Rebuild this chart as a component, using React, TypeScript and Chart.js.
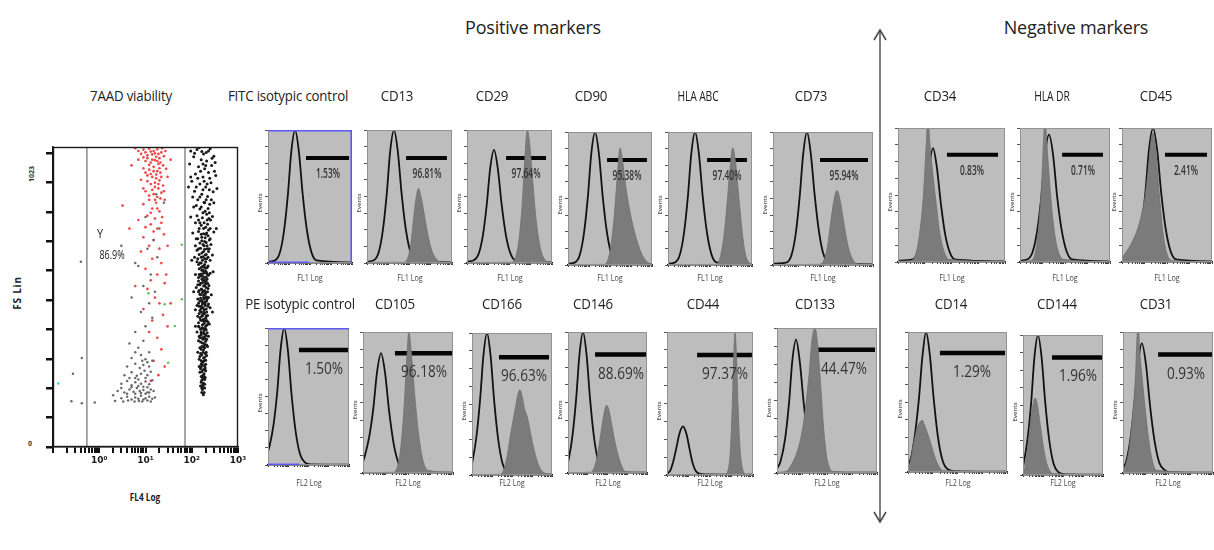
import React, { useEffect, useRef } from 'react';
import { Chart, registerables } from 'chart.js';

Chart.register(...registerables);

type Pt = [number, number];

// ------------------------------------------------------------------ DATA
const SECTION_TITLES = ['Positive markers', 'Negative markers'];

const ROW1_TITLES = ['FITC isotypic control', 'CD13', 'CD29', 'CD90', 'HLA ABC', 'CD73', 'CD34', 'HLA DR', 'CD45'];
const ROW1_PCTS = ['1.53%', '96.81%', '97.64%', '95.38%', '97.40%', '95.94%', '0.83%', '0.71%', '2.41%'];
// gate marker: [start, end, level]
const ROW1_GATES: [number, number, number][] = [
  [1.81, 3.86, 79], [1.84, 3.76, 79], [1.84, 3.72, 79], [1.86, 3.76, 79], [1.86, 3.76, 79],
  [1.88, 3.8, 79], [1.83, 3.74, 80], [1.87, 3.69, 80], [1.91, 3.78, 80],
];

const ROW2_TITLES = ['PE isotypic control', 'CD105', 'CD166', 'CD146', 'CD44', 'CD133', 'CD14', 'CD144', 'CD31'];
const ROW2_PCTS = ['1.50%', '96.18%', '96.63%', '88.69%', '97.37%', '44.47%', '1.29%', '1.96%', '0.93%'];
const ROW2_GATES: [number, number, number][] = [
  [1.53, 4, 84], [1.42, 4, 85], [1.35, 3.85, 83], [1.37, 3.95, 84], [1.4, 3.95, 84],
  [1.4, 3.92, 85], [1.29, 3.92, 85], [1.45, 4, 84], [1.56, 4, 84],
];

// histogram curves: [log channel (decades), % of max events]
const FITC_ISO: Pt[] = [[0, 1], [0.34, 2], [0.57, 8], [0.77, 25], [0.95, 52], [1.11, 84], [1.29, 100], [1.47, 84], [1.65, 52], [1.85, 25], [2.07, 8], [2.31, 2], [4, 0.5]];
const CD13_ISO: Pt[] = [[0, 1], [0.32, 2], [0.55, 8], [0.75, 25], [0.93, 52], [1.09, 84], [1.27, 100], [1.45, 84], [1.63, 52], [1.83, 25], [2.05, 8], [2.29, 2], [4, 0.5]];
const CD13_MK: Pt[] = [[0, 0.5], [1.7, 0.5], [1.9, 3], [2.06, 14], [2.2, 35], [2.32, 50], [2.42, 56], [2.54, 50], [2.7, 36], [2.88, 20], [3.08, 8], [3.32, 2], [3.55, 0.5], [4, 0.3]];
const CD29_ISO: Pt[] = [[0, 1], [0.32, 2], [0.55, 7], [0.75, 21], [0.93, 44], [1.09, 71], [1.27, 85], [1.45, 71], [1.63, 44], [1.83, 21], [2.05, 7], [2.29, 2], [4, 0.5]];
const CD29_MK: Pt[] = [[0, 0.3], [2.05, 0.5], [2.28, 4], [2.45, 18], [2.6, 45], [2.72, 78], [2.84, 100], [2.96, 88], [3.1, 60], [3.27, 30], [3.47, 10], [3.7, 2], [4, 0.3]];
const CD90_ISO: Pt[] = [[0, 1], [0.34, 2], [0.57, 8], [0.77, 25], [0.95, 52], [1.11, 84], [1.29, 100], [1.47, 84], [1.65, 52], [1.85, 25], [2.07, 8], [2.31, 2], [4, 0.5]];
const CD90_MK: Pt[] = [[0, 0.3], [1.7, 0.5], [1.88, 3], [2.05, 15], [2.22, 40], [2.37, 72], [2.48, 88], [2.6, 78], [2.76, 58], [2.95, 40], [3.15, 26], [3.35, 15], [3.55, 7], [3.8, 2], [4, 0.5]];
const HLAABC_ISO: Pt[] = [[0, 1], [0.34, 2], [0.57, 8], [0.77, 25], [0.95, 52], [1.11, 84], [1.29, 100], [1.47, 84], [1.65, 52], [1.85, 25], [2.07, 8], [2.31, 2], [4, 0.5]];
const HLAABC_MK: Pt[] = [[0, 0.3], [2.25, 0.5], [2.45, 4], [2.63, 18], [2.79, 42], [2.94, 70], [3.08, 88], [3.21, 78], [3.35, 55], [3.5, 30], [3.66, 10], [3.85, 2], [4, 0.5]];
const CD73_ISO: Pt[] = [[0, 1], [0.55, 2], [0.75, 8], [0.92, 25], [1.07, 52], [1.21, 84], [1.36, 100], [1.51, 84], [1.67, 52], [1.84, 25], [2.02, 8], [2.23, 2], [4, 0.5]];
const CD73_MK: Pt[] = [[0, 0.3], [1.85, 0.5], [2.02, 3], [2.18, 14], [2.32, 34], [2.45, 50], [2.56, 56], [2.68, 49], [2.82, 33], [2.98, 16], [3.14, 6], [3.35, 1], [4, 0.3]];
const CD34_ISO: Pt[] = [[0, 1], [0.55, 2], [0.73, 7], [0.89, 21], [1.04, 44], [1.17, 71], [1.31, 85], [1.45, 71], [1.6, 44], [1.76, 21], [1.94, 7], [2.13, 2], [4, 0.5]];
const CD34_MK: Pt[] = [[0, 0.5], [0.45, 1], [0.65, 5], [0.8, 20], [0.95, 50], [1.06, 90], [1.12, 112], [1.18, 92], [1.28, 70], [1.42, 45], [1.56, 22], [1.72, 8], [1.9, 2], [4, 0.3]];
const HLADR_ISO: Pt[] = [[0, 1], [0.34, 2], [0.57, 8], [0.77, 24], [0.95, 49], [1.11, 80], [1.29, 95], [1.47, 80], [1.65, 49], [1.85, 24], [2.07, 8], [2.31, 2], [4, 0.5]];
const HLADR_MK: Pt[] = [[0, 0.5], [0.45, 1], [0.65, 5], [0.8, 22], [0.95, 55], [1.05, 92], [1.11, 112], [1.17, 95], [1.27, 70], [1.4, 42], [1.55, 20], [1.72, 7], [1.92, 2], [4, 0.3]];
const CD45_ISO: Pt[] = [[0, 1], [0.43, 2], [0.66, 8], [0.86, 25], [1.04, 52], [1.2, 84], [1.38, 100], [1.56, 84], [1.74, 52], [1.94, 25], [2.16, 8], [2.4, 2], [4, 0.5]];
const CD45_MK: Pt[] = [[0, 3], [0.2, 8], [0.45, 15], [0.7, 25], [0.9, 38], [1.05, 52], [1.18, 72], [1.3, 92], [1.38, 96], [1.5, 82], [1.65, 52], [1.82, 22], [2.0, 6], [2.25, 1], [4, 0.3]];

const PE_ISO: Pt[] = [[0, 10], [0.08, 14], [0.28, 30], [0.46, 54], [0.62, 84], [0.8, 100], [0.98, 84], [1.16, 52], [1.36, 25], [1.58, 8], [1.82, 2], [2.1, 0.5], [4, 0.3]];
const CD105_ISO: Pt[] = [[0, 8], [0.08, 12], [0.28, 26], [0.46, 46], [0.62, 71], [0.8, 85], [0.98, 71], [1.16, 44], [1.36, 21], [1.58, 7], [1.82, 2], [2.1, 0.5], [4, 0.3]];
const CD105_MK: Pt[] = [[0, 0.3], [1.35, 0.5], [1.52, 4], [1.68, 18], [1.82, 45], [1.94, 80], [2.04, 100], [2.15, 85], [2.3, 55], [2.47, 28], [2.65, 10], [2.88, 2], [4, 0.3]];
const CD166_ISO: Pt[] = [[0, 8], [0.03, 10], [0.23, 28], [0.41, 54], [0.57, 84], [0.75, 100], [0.93, 84], [1.11, 52], [1.31, 25], [1.53, 8], [1.77, 2], [2.1, 0.5], [4, 0.3]];
const CD166_MK: Pt[] = [[0, 0.3], [1.4, 0.5], [1.6, 4], [1.78, 15], [1.92, 28], [2.05, 38], [2.18, 48], [2.3, 57], [2.4, 60], [2.5, 56], [2.62, 47], [2.78, 40], [2.92, 30], [3.1, 18], [3.3, 8], [3.55, 2], [4, 0.3]];
const CD146_ISO: Pt[] = [[0, 8], [0.04, 10], [0.24, 28], [0.42, 54], [0.58, 84], [0.76, 100], [0.94, 84], [1.12, 52], [1.32, 25], [1.54, 8], [1.78, 2], [2.1, 0.5], [4, 0.3]];
const CD146_MK: Pt[] = [[0, 0.3], [1.15, 0.5], [1.3, 3], [1.45, 10], [1.6, 22], [1.75, 36], [1.88, 46], [1.97, 48], [2.08, 44], [2.22, 34], [2.38, 22], [2.55, 12], [2.72, 5], [2.9, 1], [4, 0.3]];
const CD44_ISO: Pt[] = [[0, 1], [0.15, 3], [0.3, 10], [0.45, 20], [0.58, 29], [0.74, 34], [0.9, 29], [1.04, 19], [1.18, 9], [1.33, 3], [1.5, 1], [1.8, 0.5], [4, 0.3]];
const CD44_MK: Pt[] = [[0, 0.3], [2.7, 0.5], [2.85, 4], [2.96, 20], [3.05, 55], [3.12, 90], [3.16, 100], [3.22, 88], [3.3, 50], [3.4, 18], [3.52, 4], [3.65, 0.5], [4, 0.3]];
const CD133_ISO: Pt[] = [[0, 3], [0.14, 8], [0.32, 23], [0.48, 48], [0.61, 77], [0.76, 92], [0.91, 77], [1.07, 48], [1.24, 23], [1.42, 7], [1.63, 2], [2, 0.5], [4, 0.3]];
const CD133_MK: Pt[] = [[0, 0.5], [0.35, 1], [0.55, 5], [0.75, 12], [0.95, 24], [1.12, 42], [1.28, 68], [1.4, 92], [1.52, 100], [1.62, 90], [1.74, 62], [1.86, 32], [1.98, 12], [2.12, 3], [2.3, 0.5], [4, 0.3]];
const CD14_ISO: Pt[] = [[0, 5], [0.12, 10], [0.29, 28], [0.44, 52], [0.58, 82], [0.73, 100], [0.88, 84], [1.04, 52], [1.21, 25], [1.4, 8], [1.61, 2], [2, 0.5], [4, 0.3]];
const CD14_MK: Pt[] = [[0, 2], [0.1, 8], [0.22, 20], [0.38, 32], [0.5, 36], [0.57, 37], [0.68, 33], [0.82, 26], [0.96, 18], [1.1, 10], [1.25, 4], [1.42, 1], [4, 0.3]];
const CD144_ISO: Pt[] = [[0, 6], [0.03, 8], [0.23, 26], [0.41, 52], [0.57, 84], [0.75, 100], [0.93, 84], [1.11, 52], [1.31, 25], [1.53, 8], [1.77, 2], [2.1, 0.5], [4, 0.3]];
const CD144_MK: Pt[] = [[0, 1], [0.1, 6], [0.24, 20], [0.38, 38], [0.5, 50], [0.6, 55], [0.72, 50], [0.86, 36], [1.0, 22], [1.14, 11], [1.3, 4], [1.5, 1], [4, 0.3]];
const CD31_ISO: Pt[] = [[0, 4], [0.12, 7], [0.32, 23], [0.5, 48], [0.66, 77], [0.84, 92], [1.02, 77], [1.2, 48], [1.4, 23], [1.62, 7], [1.86, 2], [2.1, 0.5], [4, 0.3]];
const CD31_MK: Pt[] = [[0, 1], [0.12, 6], [0.28, 18], [0.42, 40], [0.54, 64], [0.62, 95], [0.67, 112], [0.73, 90], [0.85, 68], [0.99, 45], [1.14, 24], [1.3, 9], [1.48, 2], [4, 0.3]];

const ROW1_ISO = [FITC_ISO, CD13_ISO, CD29_ISO, CD90_ISO, HLAABC_ISO, CD73_ISO, CD34_ISO, HLADR_ISO, CD45_ISO];
const ROW1_MK: (Pt[] | null)[] = [null, CD13_MK, CD29_MK, CD90_MK, HLAABC_MK, CD73_MK, CD34_MK, HLADR_MK, CD45_MK];
const ROW2_ISO = [PE_ISO, CD105_ISO, CD166_ISO, CD146_ISO, CD44_ISO, CD133_ISO, CD14_ISO, CD144_ISO, CD31_ISO];
const ROW2_MK: (Pt[] | null)[] = [null, CD105_MK, CD166_MK, CD146_MK, CD44_MK, CD133_MK, CD14_MK, CD144_MK, CD31_MK];

// histogram axis ticks
const HIST_DECADES = [0, 1, 2, 3];
const LOG_MINOR = [0, 0.301, 0.477, 0.602, 0.699, 0.778, 0.845, 0.903, 0.954];
const HIST_Y_TICKS = [0, 12.5, 25, 37.5, 50, 62.5, 75, 87.5, 100];

// 7AAD viability dot plot (FL4 log, FS lin)
const FS_TICKS = [0, 102.3, 204.6, 306.9, 409.2, 511.5, 613.8, 716.1, 818.4, 920.7, 1023];
const FL4_DECADES = [0.1, 1, 10, 100];
const FL4_MULT = [1, 2, 3, 4, 5, 6, 7, 8, 9];
const FL4_LABELS: Record<string, string> = { '1': '10\u2070', '10': '10\u00b9', '100': '10\u00b2', '1000': '10\u00b3' };
const GATE_LOW = 0.54;
const GATE_HIGH = 71.5;

const DEAD_CELLS: Pt[] = [
  [95, 1030], [130, 1035], [180, 1020], [250, 1038], [110, 1010], [160, 1000], [210, 995], [300, 1012], [90, 985], [140, 975],
  [190, 968], [270, 980], [120, 950], [175, 940], [230, 955], [330, 945], [100, 925], [150, 915], [200, 905], [260, 920],
  [115, 890], [165, 880], [220, 872], [290, 888], [135, 860], [185, 852], [245, 845], [105, 870], [95, 940], [205, 1025],
  [145, 1042], [320, 990], [85, 905], [240, 895], [175, 985], [125, 905],
  [110, 835], [150, 828], [195, 820], [240, 815], [130, 805], [170, 798], [215, 790], [280, 802], [120, 780], [160, 772],
  [200, 765], [250, 760], [140, 750], [180, 742], [225, 735], [105, 745], [300, 748], [135, 725], [165, 718], [205, 712],
  [260, 705], [120, 700], [155, 692], [190, 688], [230, 680], [145, 670], [175, 662], [210, 655], [280, 668], [115, 660],
  [185, 700], [160, 740], [140, 790], [220, 775], [195, 728],
  [130, 645], [160, 640], [190, 635], [225, 630], [145, 620], [175, 615], [205, 610], [250, 605], [120, 600], [155, 595],
  [185, 590], [215, 585], [140, 578], [170, 572], [200, 568], [235, 562], [125, 555], [160, 550], [190, 545], [220, 540],
  [150, 532], [180, 528], [210, 522], [265, 530], [135, 515], [165, 510], [195, 505], [230, 498], [145, 490], [175, 485],
  [205, 480], [120, 478], [160, 470], [190, 465], [220, 458], [150, 450], [180, 445], [210, 440], [140, 432], [170, 425],
  [200, 420], [240, 428], [155, 410], [185, 405], [130, 400], [215, 398], [165, 615], [195, 580], [175, 540], [185, 500],
  [165, 455], [195, 438], [150, 565], [210, 605], [170, 595], [200, 520], [160, 490], [180, 470], [190, 625], [155, 530],
  [160, 390], [185, 382], [210, 375], [140, 370], [170, 362], [195, 355], [150, 345], [180, 338], [205, 330], [165, 320],
  [190, 312], [145, 305], [175, 296], [200, 288], [160, 278], [185, 270], [150, 260], [175, 250], [195, 242], [165, 232],
  [180, 222], [155, 212], [170, 200], [185, 190], [135, 330], [220, 350], [200, 265], [160, 300], [178, 350], [190, 235],
];

const DEAD_CELLS_CORE: Pt[] = [
  [230, 1030], [115, 1022], [165, 1028], [275, 1005], [200, 980], [155, 960], [245, 935], [185, 925], [135, 935], [215, 915],
  [175, 895], [150, 870], [205, 860], [265, 860], [125, 840], [225, 830], [175, 815], [255, 790], [150, 780], [185, 780],
  [210, 745], [125, 725], [240, 720], [175, 705], [140, 690], [215, 690], [165, 675], [195, 668], [250, 650], [135, 655],
  [170, 650], [200, 645], [180, 630], [140, 635], [215, 625], [160, 625], [195, 612], [230, 598], [145, 600], [180, 605],
  [205, 592], [165, 585], [190, 575], [220, 570], [135, 565], [180, 560], [205, 555], [145, 545], [170, 538], [195, 532],
  [230, 520], [155, 518], [185, 515], [210, 508], [140, 500], [170, 498], [195, 492], [250, 485], [150, 475], [175, 462],
  [205, 455], [135, 455], [165, 440], [185, 430], [225, 435], [145, 418], [175, 412], [205, 408], [160, 400], [190, 392],
  [230, 385], [150, 380], [175, 375], [200, 368], [165, 350], [190, 345], [210, 318], [155, 325], [185, 300], [170, 285],
  [145, 280], [190, 282], [165, 262], [185, 255], [160, 245], [178, 238], [170, 215], [190, 205], [165, 190], [178, 182],
  [310, 960], [350, 900], [300, 850], [95, 800], [340, 760], [100, 650], [290, 610], [110, 540], [280, 470], [120, 420],
];

const DEAD_CELLS_DENSE: Pt[] = [
  [150, 640], [170, 628], [200, 622], [185, 610], [160, 602], [220, 600], [140, 590], [175, 580], [205, 578], [155, 570],
  [190, 562], [225, 552], [165, 548], [140, 540], [200, 538], [180, 520], [215, 515], [150, 508], [170, 505], [195, 498],
  [130, 492], [225, 490], [160, 482], [185, 478], [210, 470], [145, 465], [170, 458], [200, 448], [155, 442], [185, 438],
  [215, 425], [140, 420], [170, 415], [195, 412], [160, 395], [180, 398], [205, 388], [145, 385], [170, 380], [195, 378],
  [155, 365], [185, 360], [210, 355], [160, 340], [175, 330], [195, 325], [150, 315], [180, 310], [200, 302], [170, 295],
  [160, 288], [195, 275], [175, 268], [155, 272], [185, 245], [170, 242], [160, 225], [190, 218], [175, 208], [165, 205],
  [190, 850], [160, 835], [210, 810], [235, 795], [180, 760], [145, 760], [230, 755], [200, 740], [165, 730], [250, 725],
  [190, 715], [150, 710], [215, 700], [130, 685], [240, 690], [180, 680], [205, 670], [160, 660], [225, 660], [190, 655],
];

const VIABLE_RED: Pt[] = [
  [6, 1040], [9, 1035], [12, 1038], [15, 1030], [18, 1036], [22, 1025], [8, 1020], [11, 1015], [14, 1018], [17, 1010],
  [20, 1005], [25, 1012], [7, 1000], [10, 995], [13, 990], [16, 998], [19, 985], [24, 980], [9, 970], [12, 965],
  [15, 975], [18, 960], [21, 955], [28, 968], [11, 945], [14, 940], [17, 935], [20, 928], [8, 930], [13, 915],
  [16, 905], [19, 900], [24, 910], [10, 890], [15, 880], [18, 870], [22, 885], [12, 860], [17, 850], [30, 940],
  [35, 1000], [5, 980], [26, 860], [9, 845], [14, 830], [20, 820], [11, 805], [16, 795], [7, 790], [23, 800],
  [13, 775], [18, 760], [3.2, 840], [4.5, 760],
  [7, 1030], [10, 1025], [13, 1028], [16, 1022], [19, 1020], [23, 1040], [27, 1030], [11, 1005], [14, 1000], [18, 995],
  [21, 990], [9, 1008], [12, 982], [15, 960], [20, 970], [10, 955], [13, 950], [17, 948], [22, 940], [16, 920],
  [11, 925], [19, 915], [14, 895], [21, 865], [12, 875], [16, 860], [9, 900], [25, 890], [13, 815], [18, 830],
  [22, 780], [10, 765], [15, 750],
  [9, 730], [15, 720], [25, 740], [12, 700], [20, 690], [8, 680], [30, 700], [14, 655], [22, 640], [10, 620],
  [18, 600], [13, 580], [26, 570], [11, 550], [16, 520], [20, 500], [9, 480], [24, 460], [14, 440], [30, 420],
  [12, 400], [18, 380], [22, 340], [15, 300], [26, 280], [19, 250], [13, 230], [28, 600], [6, 560], [35, 500],
];

const VIABLE_GRAY: Pt[] = [
  [2, 180], [3, 170], [4, 175], [5, 165], [6, 172], [7, 168], [8, 178], [9, 165], [10, 170], [12, 175],
  [14, 168], [16, 172], [2.5, 195], [3.5, 190], [4.5, 200], [5.5, 192], [6.5, 205], [7.5, 195], [9, 198], [11, 190],
  [13, 200], [15, 195], [3, 220], [4, 230], [5, 215], [6, 225], [7, 235], [8, 220], [10, 228], [12, 218],
  [14, 232], [3.5, 250], [5, 260], [6.5, 248], [8, 255], [9.5, 265], [11, 250], [13, 262], [4, 280], [6, 290],
  [7.5, 275], [9, 285], [11, 295], [5, 310], [8, 320], [10, 305], [12, 330], [7, 345], [4.5, 360], [9, 370],
  [2.2, 160], [3.3, 158], [4.2, 162], [5.8, 158], [7.2, 160], [8.5, 158], [11, 162], [13, 158], [4, 185], [6, 185],
  [8, 188], [10, 185], [12, 190], [3, 205], [5, 208], [7, 212], [9, 210], [11, 208], [6, 240], [10, 240],
  [4.5, 240], [8.5, 300], [6, 330], [12, 280], [14, 300],
  [6, 400], [10, 420], [14, 450], [8, 470], [12, 500], [5, 520], [16, 540], [9, 560], [13, 600], [7, 630],
  [18, 660], [11, 690], [15, 720], [20, 760], [10, 800], [25, 850], [17, 880], [6, 640], [3, 700],
  [0.4, 645], [0.42, 310], [0.27, 255], [0.25, 159], [0.42, 152], [0.8, 155],
];

const GREEN_EVENTS: Pt[] = [[61, 704], [26, 497], [43, 421], [31, 293], [11.6, 535], [61, 514]];
const CYAN_EVENTS: Pt[] = [[0.13, 221]];

// ------------------------------------------------------------------ LAYOUT / STYLE
const SANS = '"Open Sans", "Noto Sans", "Liberation Sans", sans-serif';
const BOX_BG = '#bdbdbd';
const MK_FILL = '#7b7b7b';
const LEFT_PAD = 6;
const TOP_PAD = 2;
const RIGHT_PAD = 2;
const BOTTOM_PAD = 5;

// chart-area boxes [left, top, width, height]
const ROW1_BOXES: [number, number, number, number][] = [
  [268, 130, 84, 133], [367, 130, 85, 133], [467, 130, 85, 133], [568, 132, 84, 133], [668, 132, 84, 133],
  [773, 132, 100, 133], [898, 128, 107, 134], [1020, 128, 90, 134], [1122, 128, 90, 134],
];
const ROW2_BOXES: [number, number, number, number][] = [
  [268, 328, 81, 137], [363, 332, 90, 141], [472, 333, 80, 142], [568, 332, 79, 141], [667, 332, 86, 143],
  [777, 328, 100, 145], [908, 332, 99, 140], [1023, 335, 80, 140], [1123, 332, 90, 141],
];
const ROW1_TITLE_X = [288, 397, 492, 591, 698, 811, 940, 1052, 1156];
const ROW2_TITLE_X = [300, 395, 502, 593, 703, 815, 951, 1057, 1156];

// ------------------------------------------------------------------ PLUGINS
const panelPlugin = {
  id: 'panelDeco',
  beforeDraw(chart: any, _a: any, opts: any) {
    const { ctx, chartArea: a } = chart;
    ctx.save();
    ctx.fillStyle = opts.bg || 'transparent';
    ctx.fillRect(a.left, a.top, a.right - a.left, a.bottom - a.top);
    ctx.restore();
  },
  afterDraw(chart: any, _a: any, opts: any) {
    const { ctx, chartArea: a } = chart;
    ctx.save();
    if (opts.frame) {
      ctx.strokeStyle = opts.frame;
      ctx.lineWidth = opts.frameWidth || 1;
      ctx.strokeRect(a.left + 0.5, a.top + 0.5, a.right - a.left - 1, a.bottom - a.top - 1);
    }
    if (opts.blue) {
      ctx.strokeStyle = '#5c5cf5';
      ctx.lineWidth = 1.6;
      ctx.beginPath();
      ctx.moveTo(a.left, a.top + 0.8);
      ctx.lineTo(a.right, a.top + 0.8);
      if (opts.blueRight) {
        ctx.moveTo(a.right - 0.8, a.top);
        ctx.lineTo(a.right - 0.8, a.bottom);
      }
      const xs = chart.scales.x;
      ctx.moveTo(a.left, a.bottom - 0.8);
      ctx.lineTo(xs.getPixelForValue(opts.blueBottomTo), a.bottom - 0.8);
      ctx.stroke();
    }
    ctx.restore();
  },
};

// ------------------------------------------------------------------ COMPONENTS
function ChartCanvas({ config, left, top, width, height }: any) {
  const ref = useRef<HTMLCanvasElement>(null);
  useEffect(() => {
    const chart = new Chart(ref.current as HTMLCanvasElement, config);
    return () => chart.destroy();
  }, []);
  return (
    <canvas
      ref={ref}
      width={width}
      height={height}
      style={{ position: 'absolute', left, top, width, height }}
    />
  );
}

function Label({ x, y, text, size, weight = 400, color = '#2a2a2a', sx = 1, rot = 0, ls = 0, family = SANS }: any) {
  return (
    <div
      style={{
        position: 'absolute',
        left: x,
        top: y,
        transform: `translate(-50%, -50%) rotate(${rot}deg) scaleX(${sx})`,
        fontSize: size,
        fontWeight: weight,
        color,
        fontFamily: family,
        whiteSpace: 'nowrap',
        lineHeight: 1,
        letterSpacing: ls,
      }}
    >
      {text}
    </div>
  );
}

const toXY = (pts: Pt[]) => pts.map(([x, y]) => ({ x, y }));

function histConfig(iso: Pt[], mk: Pt[] | null, gate: [number, number, number], row: number, idx: number) {
  const datasets: any[] = [];
  if (mk) {
    datasets.push({
      data: toXY(mk),
      fill: 'origin',
      backgroundColor: MK_FILL,
      borderColor: '#707070',
      borderWidth: 0.8,
      pointRadius: 0,
      cubicInterpolationMode: 'monotone',
    });
  }
  datasets.push({
    data: toXY(iso),
    fill: false,
    borderColor: '#121212',
    borderWidth: 1.8,
    pointRadius: 0,
    cubicInterpolationMode: 'monotone',
  });
  datasets.push({
    data: [{ x: gate[0], y: gate[2] }, { x: gate[1], y: gate[2] }],
    fill: false,
    borderColor: '#050505',
    borderWidth: row === 1 ? 4 : 4.5,
    borderCapStyle: 'butt',
    pointRadius: 0,
  });
  const isIso = idx === 0;
  return {
    type: 'line',
    data: { datasets },
    plugins: [panelPlugin],
    options: {
      animation: false,
      responsive: false,
      events: [],
      layout: { padding: { top: TOP_PAD, right: RIGHT_PAD, left: 0, bottom: 0 } },
      plugins: {
        legend: { display: false },
        tooltip: { enabled: false },
        panelDeco: {
          bg: BOX_BG,
          frame: '#929292',
          blue: isIso,
          blueRight: isIso && row === 1,
          blueBottomTo: row === 1 ? 1.95 : 1.55,
        },
      },
      scales: {
        x: {
          type: 'linear',
          min: 0,
          max: 4,
          z: 1,
          afterBuildTicks: (s: any) => {
            s.ticks = HIST_DECADES.flatMap((d) => LOG_MINOR.map((m) => ({ value: d + m }))).concat([{ value: 4 }]);
          },
          afterFit: (s: any) => {
            s.height = BOTTOM_PAD;
          },
          ticks: { display: false },
          grid: { drawOnChartArea: false, drawTicks: true, tickLength: 2, color: '#3a3a3a', lineWidth: 1 },
          border: { display: true, color: '#1c1c1c', width: 1.6 },
        },
        y: {
          type: 'linear',
          min: 0,
          max: 100,
          afterBuildTicks: (s: any) => {
            s.ticks = HIST_Y_TICKS.map((v) => ({ value: v }));
          },
          afterFit: (s: any) => {
            s.width = LEFT_PAD;
          },
          ticks: { display: false },
          grid: { drawOnChartArea: false, drawTicks: true, tickLength: 3, color: '#555', lineWidth: 1 },
          border: { display: true, color: '#7a7a7a', width: 1 },
        },
      },
    },
  };
}

function scatterConfig() {
  const dot = (data: Pt[], color: string, r = 1.4) => ({
    type: 'scatter',
    data: toXY(data),
    backgroundColor: color,
    borderWidth: 0,
    pointRadius: r,
  });
  const gateLine = (x: number) => ({
    type: 'line',
    data: [{ x, y: 0 }, { x, y: 1044 }],
    borderColor: '#8a8a8a',
    borderWidth: 1.5,
    pointRadius: 0,
    fill: false,
  });
  return {
    type: 'scatter',
    data: {
      datasets: [
        gateLine(GATE_LOW),
        gateLine(GATE_HIGH),
        dot(VIABLE_GRAY, '#6a6a6a', 1.25),
        dot(VIABLE_RED, '#ee4a4a', 1.35),
        dot(GREEN_EVENTS, '#5cc45c', 1.3),
        dot(CYAN_EVENTS, '#40d0e0', 1.3),
        dot(DEAD_CELLS, '#1a1a1a', 1.5),
        dot(DEAD_CELLS_CORE, '#1a1a1a', 1.5),
        dot(DEAD_CELLS_DENSE, '#1a1a1a', 1.5),
      ],
    },
    plugins: [panelPlugin],
    options: {
      animation: false,
      responsive: false,
      events: [],
      layout: { padding: { top: 2, right: 12, left: 0, bottom: 0 } },
      plugins: {
        legend: { display: false },
        tooltip: { enabled: false },
        panelDeco: { bg: '#ffffff', frame: '#1a1a1a', frameWidth: 1.4 },
      },
      scales: {
        x: {
          type: 'logarithmic',
          min: 0.1,
          max: 1000,
          afterBuildTicks: (s: any) => {
            s.ticks = FL4_DECADES.flatMap((d) => FL4_MULT.map((m) => ({ value: d * m }))).concat([{ value: 1000 }]);
          },
          afterFit: (s: any) => {
            s.height = 26;
          },
          ticks: {
            autoSkip: false,
            maxRotation: 0,
            padding: 2,
            color: '#1a1a1a',
            font: { family: '"DejaVu Sans", sans-serif', size: 9, weight: 'bold' },
            callback: (v: number) => FL4_LABELS[String(Math.round(v * 1000) / 1000)] ?? '',
          },
          grid: { drawOnChartArea: false, drawTicks: true, tickLength: 6, color: '#111', lineWidth: 2 },
          border: { display: true, color: '#111', width: 1.5 },
        },
        y: {
          type: 'linear',
          min: 0,
          max: 1044,
          afterBuildTicks: (s: any) => {
            s.ticks = FS_TICKS.map((v) => ({ value: v }));
          },
          afterFit: (s: any) => {
            s.width = 14;
          },
          ticks: { display: false },
          grid: { drawOnChartArea: false, drawTicks: true, tickLength: 7, color: '#111', lineWidth: 2.5 },
          border: { display: true, color: '#111', width: 1.5 },
        },
      },
    },
  };
}

function HistPanel({ box, iso, mk, gate, row, idx, title, titleX, pct }: any) {
  const [l, t, w, h] = box;
  const barY = t + h * (1 - gate[2] / 100);
  const barCx = l + (w * ((gate[0] + gate[1]) / 2)) / 4;
  const narrowTitle = title.startsWith('HLA');
  return (
    <>
      <ChartCanvas
        config={histConfig(iso, mk, gate, row, idx)}
        left={l - LEFT_PAD}
        top={t - TOP_PAD}
        width={w + LEFT_PAD + RIGHT_PAD}
        height={h + TOP_PAD + BOTTOM_PAD}
      />
      <Label
        x={titleX}
        y={row === 1 ? 96 : 304}
        text={title}
        size={14}
        ls={-0.2}
        sx={narrowTitle ? 0.74 : 0.95}
        color="#222"
      />
      <Label
        x={barCx}
        y={barY + (row === 1 ? 15 : 17)}
        text={pct}
        size={row === 1 ? 14 : 17}
        weight={row === 1 ? 600 : 400}
        sx={row === 1 ? 0.6 : 0.8}
        color="#333"
      />
      <Label x={l + w / 2} y={row === 1 ? 277 : 482} text={row === 1 ? 'FL1 Log' : 'FL2 Log'} size={9} sx={0.8} color="#444" />
      <Label x={l - 8} y={t + h * 0.55} text="Events" size={6} weight={600} rot={-90} color="#555" />
    </>
  );
}

export default function App() {
  useEffect(() => {
    document.body.style.margin = '0';
    document.body.style.background = '#ffffff';
  }, []);
  return (
    <div style={{ position: 'absolute', left: 0, top: 0, width: 1214, height: 550, background: '#ffffff', overflow: 'hidden' }}>
      <Label x={533} y={27} text={SECTION_TITLES[0]} size={18} ls={-0.2} color="#222" />
      <Label x={1076} y={27} text={SECTION_TITLES[1]} size={18} ls={-0.2} color="#222" />

      {/* viability dot plot */}
      <Label x={131} y={96} text="7AAD viability" size={14} sx={0.95} ls={-0.2} color="#222" />
      <ChartCanvas config={scatterConfig()} left={39} top={143} width={211} height={330} />
      <Label x={17} y={293} text="FS Lin" size={10} weight={700} rot={-90} ls={0.8} color="#222" />
      <Label x={31} y={174} text="1023" size={7} weight={700} rot={-90} color="#333" />
      <Label x={30} y={443} text="0" size={7} weight={700} color="#333" />
      <Label x={145} y={496} text="FL4 Log" size={11} weight={700} sx={0.75} color="#222" />
      <Label x={100} y={233} text="Y" size={13} sx={0.85} color="#222" />
      <Label x={112} y={255} text="86.9%" size={12} sx={0.75} color="#222" />

      {ROW1_TITLES.map((title, i) => (
        <HistPanel
          key={'r1' + i}
          box={ROW1_BOXES[i]}
          iso={ROW1_ISO[i]}
          mk={ROW1_MK[i]}
          gate={ROW1_GATES[i]}
          row={1}
          idx={i}
          title={title}
          titleX={ROW1_TITLE_X[i]}
          pct={ROW1_PCTS[i]}
        />
      ))}
      {ROW2_TITLES.map((title, i) => (
        <HistPanel
          key={'r2' + i}
          box={ROW2_BOXES[i]}
          iso={ROW2_ISO[i]}
          mk={ROW2_MK[i]}
          gate={ROW2_GATES[i]}
          row={2}
          idx={i}
          title={title}
          titleX={ROW2_TITLE_X[i]}
          pct={ROW2_PCTS[i]}
        />
      ))}

      <svg width={1214} height={550} style={{ position: 'absolute', left: 0, top: 0, pointerEvents: 'none' }}>
        <line x1={880} y1={31} x2={880} y2={521} stroke="#555" strokeWidth={1.5} />
        <polyline points="874,40 880,30 886,40" fill="none" stroke="#444" strokeWidth={1.5} />
        <polyline points="874,512 880,522 886,512" fill="none" stroke="#444" strokeWidth={1.5} />
      </svg>
    </div>
  );
}
